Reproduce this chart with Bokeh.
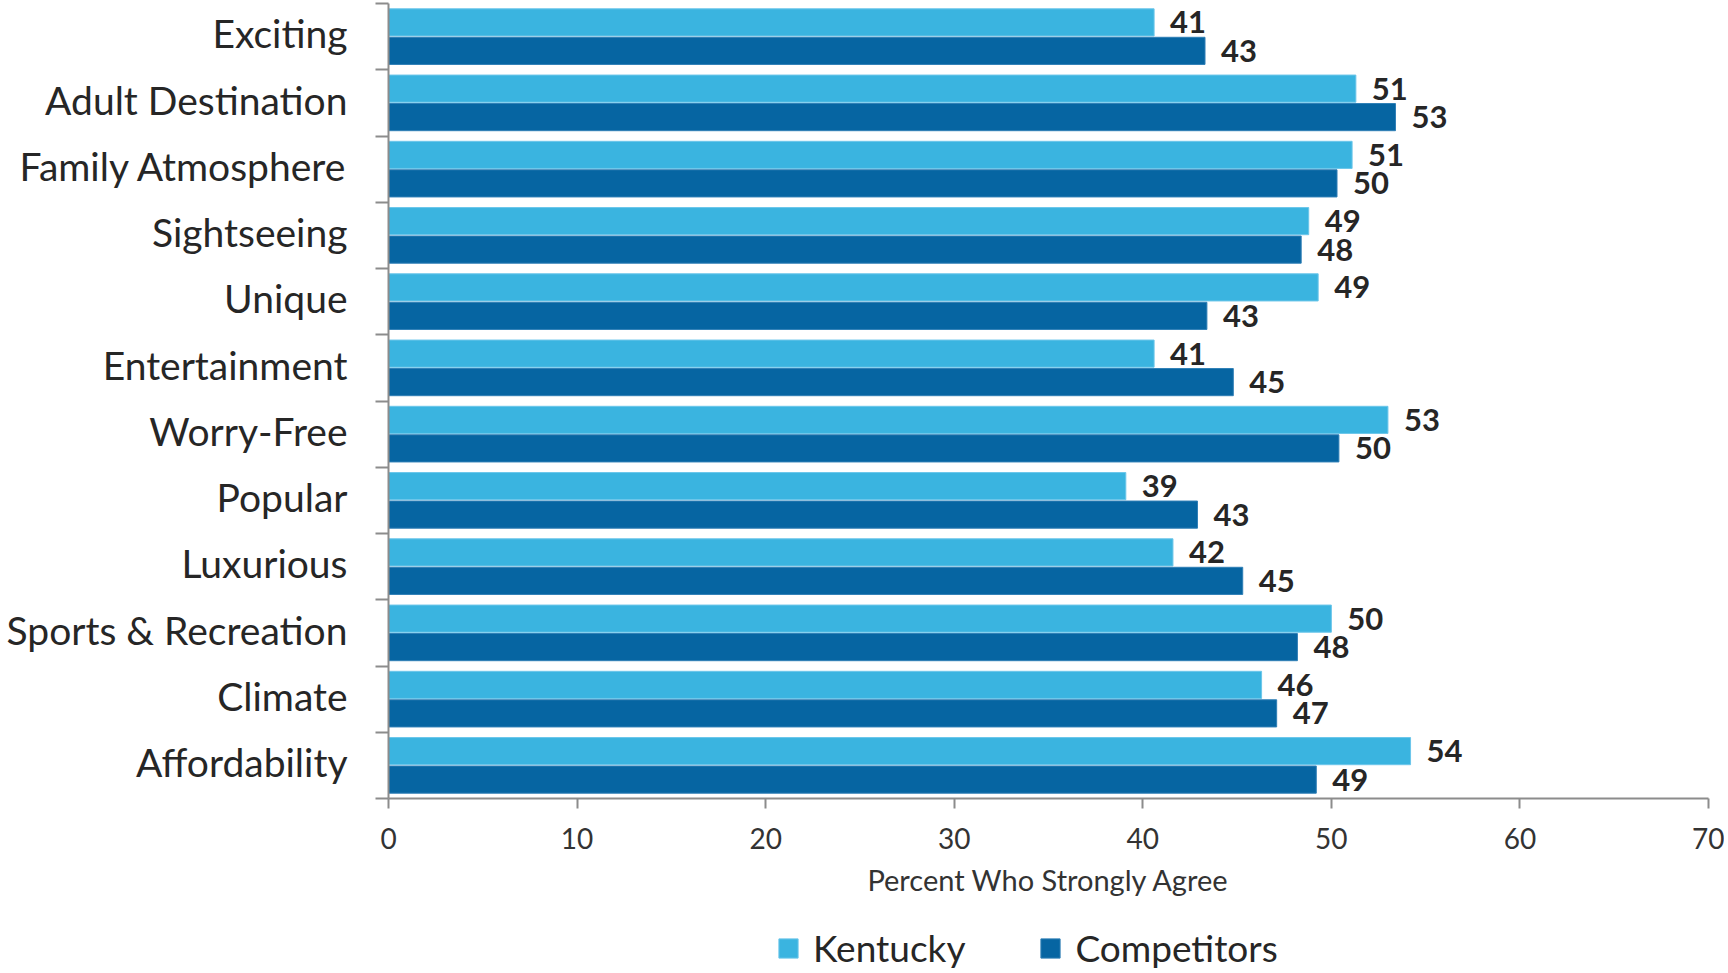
from bokeh.plotting import figure
from bokeh.layouts import column
from bokeh.models import (ColumnDataSource, Range1d, LinearAxis,
                          FixedTicker, Legend, LegendItem)
from bokeh.core.properties import value
from bokeh.embed import file_html
from bokeh.resources import INLINE

categories = ["Exciting", "Adult Destination", "Family Atmosphere", "Sightseeing",
              "Unique", "Entertainment", "Worry-Free", "Popular", "Luxurious",
              "Sports & Recreation", "Climate", "Affordability"]
kentucky = [40.6, 51.3, 51.1, 48.8, 49.3, 40.6, 53.0, 39.1, 41.6, 50.0, 46.3, 54.2]
competitors = [43.3, 53.4, 50.3, 48.4, 43.4, 44.8, 50.4, 42.9, 45.3, 48.2, 47.1, 49.2]
kentucky_labels = ["41", "51", "51", "49", "49", "41", "53", "39", "42", "50", "46", "54"]
competitors_labels = ["43", "53", "50", "48", "43", "45", "50", "43", "45", "48", "47", "49"]
series_names = ["Kentucky", "Competitors"]
x_ticks = [0, 10, 20, 30, 40, 50, 60, 70]
x_title = "Percent Who Strongly Agree"

K_COLOR = "#3AB4E0"
C_COLOR = "#0665A2"
K_EDGE = "#6cc6ea"
C_EDGE = "#2f7fb6"
AXIS_COLOR = "#8c8c8c"
TEXT_COLOR = "#262626"
FONT = "Lato"

n = len(categories)
centers = [n - i - 0.5 for i in range(n)]   # first category at the top
label_pos = [y + 0.05 for y in centers]     # nudge names to sit optically centred
OFF = 0.215
H = 0.41

src = ColumnDataSource(dict(cat=categories, k=kentucky, c=competitors,
                            kl=kentucky_labels, cl=competitors_labels,
                            yk=[y + OFF for y in centers],
                            yc=[y - OFF for y in centers]))

W = 1724
p = figure(width=W, height=918,
           x_range=Range1d(0, 70), y_range=Range1d(0, n),
           y_axis_location=None,
           output_backend="svg", toolbar_location=None,
           min_border_left=388, min_border_right=16,
           min_border_top=3, min_border_bottom=120)
p.outline_line_color = None
p.xgrid.visible = False
p.ygrid.visible = False

rk = p.hbar(y="yk", left=0, right="k", height=H, source=src,
            fill_color=K_COLOR, line_color=K_EDGE, line_width=1)
rc = p.hbar(y="yc", left=0, right="c", height=H, source=src,
            fill_color=C_COLOR, line_color=C_EDGE, line_width=1)

for col, lab, ycol in (("k", "kl", "yk"), ("c", "cl", "yc")):
    p.text(x=col, y=ycol, text=lab, source=src,
           x_offset=16, text_baseline="middle", text_align="left",
           text_font=value(FONT), text_font_style="bold",
           text_font_size="31px", text_color=TEXT_COLOR)

# category axis: names at the centres (major), ticks at the boundaries (minor)
cat_axis = LinearAxis(ticker=FixedTicker(ticks=label_pos,
                                         minor_ticks=list(range(n + 1))),
                      major_label_overrides={y: c for y, c in zip(label_pos, categories)},
                      major_tick_out=13, major_tick_in=0,
                      major_tick_line_color=None,
                      minor_tick_out=13, minor_tick_in=0,
                      minor_tick_line_color=AXIS_COLOR, minor_tick_line_width=2,
                      axis_line_color=AXIS_COLOR, axis_line_width=2,
                      major_label_standoff=28,
                      major_label_text_font=FONT,
                      major_label_text_font_size="39px",
                      major_label_text_color=TEXT_COLOR)
p.add_layout(cat_axis, "left")

xa = p.xaxis[0]
xa.ticker = FixedTicker(ticks=x_ticks)
xa.major_tick_out = 10
xa.major_tick_in = 0
xa.minor_tick_out = 0
xa.minor_tick_in = 0
xa.axis_line_color = AXIS_COLOR
xa.axis_line_width = 2
xa.major_tick_line_color = AXIS_COLOR
xa.major_tick_line_width = 2
xa.major_label_standoff = 19
xa.major_label_text_font = FONT
xa.major_label_text_font_size = "28px"
xa.major_label_text_color = "#333333"
xa.axis_label = x_title
xa.axis_label_standoff = 10
xa.axis_label_text_font = FONT
xa.axis_label_text_font_size = "29px"
xa.axis_label_text_font_style = "normal"
xa.axis_label_text_color = "#333333"

# legend strip below the chart (its renderers draw the same data far outside view)
lf = figure(width=W, height=52, x_range=Range1d(0, 70), y_range=Range1d(100, 101),
            x_axis_location=None, y_axis_location=None,
            output_backend="svg", toolbar_location=None, min_border=0)
lf.outline_line_color = None
lf.xgrid.visible = False
lf.ygrid.visible = False
lk = lf.hbar(y="yk", left=0, right="k", height=H, source=src,
             fill_color=K_COLOR, line_color=K_EDGE)
lc = lf.hbar(y="yc", left=0, right="c", height=H, source=src,
             fill_color=C_COLOR, line_color=C_EDGE)
legend = Legend(items=[LegendItem(label=series_names[0], renderers=[lk]),
                       LegendItem(label=series_names[1], renderers=[lc])],
                orientation="horizontal", location=(388, 0),
                label_text_font=FONT, label_text_font_size="37px",
                label_text_color=TEXT_COLOR,
                glyph_width=24, glyph_height=24, label_standoff=13,
                spacing=73, padding=0, margin=0,
                border_line_color=None, background_fill_alpha=0)
lf.add_layout(legend)

layout = column(p, lf, spacing=0)
open("out.html", "w").write(file_html(layout, INLINE))
